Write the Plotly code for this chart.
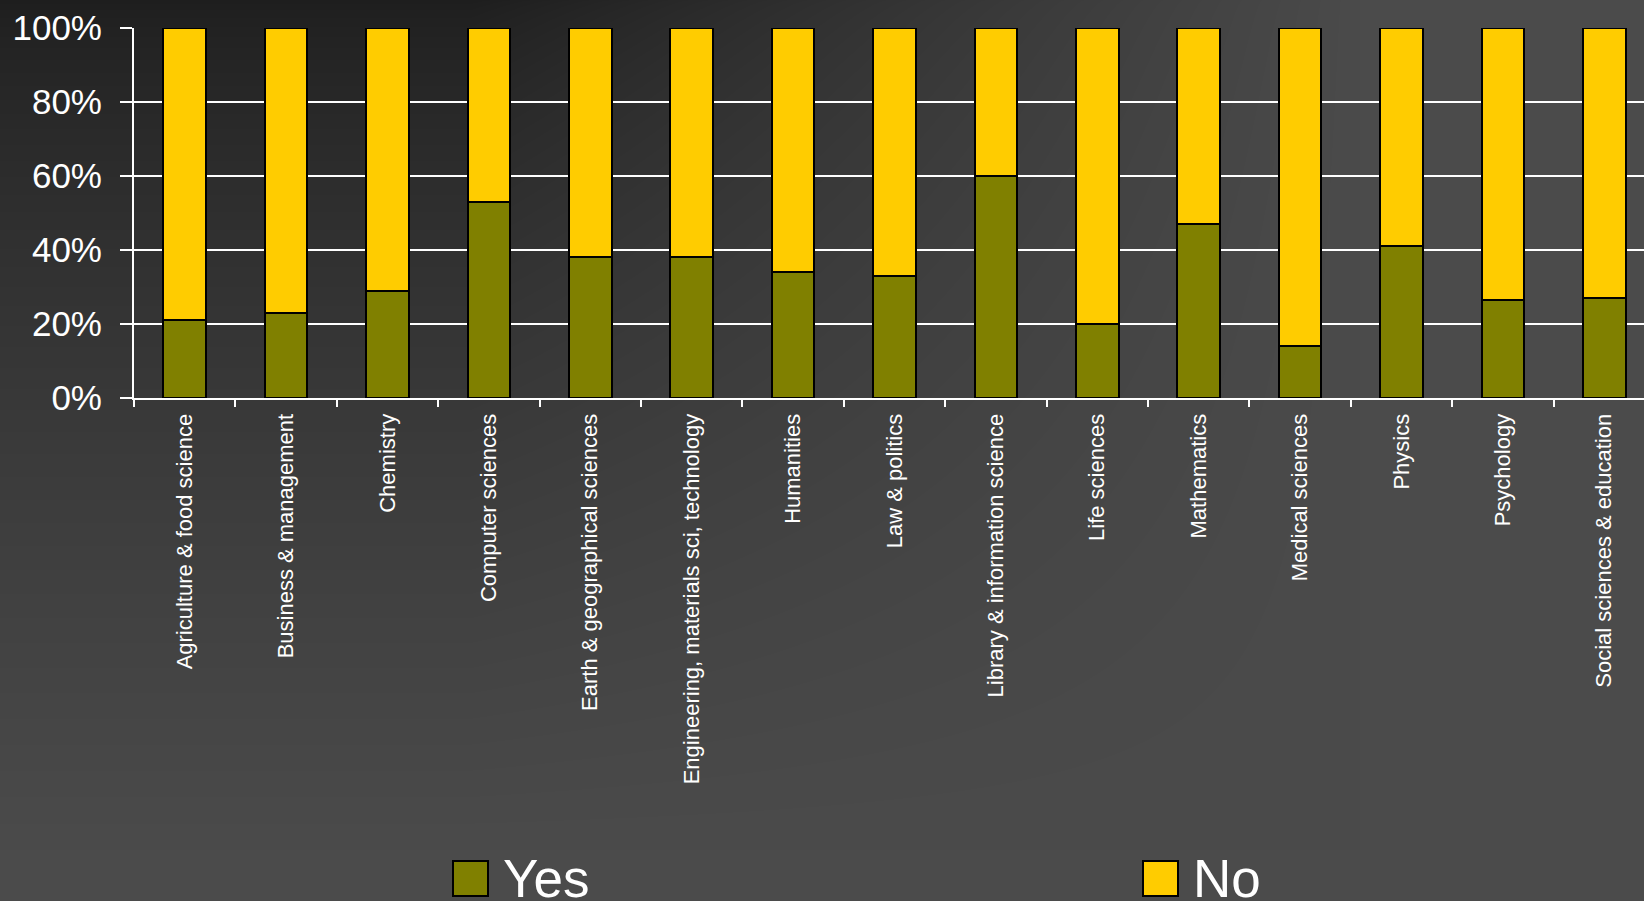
import base64
import struct
import zlib

import numpy as np
import plotly.graph_objects as go

# ---------------- data ----------------
categories = [
    "Agriculture & food science",
    "Business & management",
    "Chemistry",
    "Computer sciences",
    "Earth & geographical sciences",
    "Engineering, materials sci, technology",
    "Humanities",
    "Law & politics",
    "Library & information science",
    "Life sciences",
    "Mathematics",
    "Medical sciences",
    "Physics",
    "Psychology",
    "Social sciences & education",
]
yes_values = [21, 23, 29, 53, 38, 38, 34, 33, 60, 20, 47, 14, 41, 26.5, 27]
no_values = [79, 77, 71, 47, 62, 62, 66, 67, 40, 80, 53, 86, 59, 73.5, 73]
series_names = ["Yes", "No"]
series_colors = ["#808000", "#FFCC00"]
y_tick_values = [0, 20, 40, 60, 80, 100]
y_tick_labels = ["0%", "20%", "40%", "60%", "80%", "100%"]

# ---------------- layout geometry ----------------
W, H = 1644, 901
ML, MR, MT, MB = 134, 0, 28, 503
PW, PH = W - ML - MR, H - MT - MB


def png_data_uri(arr):
    h, w = arr.shape
    raw = b"".join(b"\x00" + arr[i].tobytes() for i in range(h))
    def chunk(tag, data):
        c = struct.pack(">I", len(data)) + tag + data
        return c + struct.pack(">I", zlib.crc32(tag + data) & 0xFFFFFFFF)
    png = b"\x89PNG\r\n\x1a\n"
    png += chunk(b"IHDR", struct.pack(">IIBBBBB", w, h, 8, 0, 0, 0, 0))
    png += chunk(b"IDAT", zlib.compress(raw, 9))
    png += chunk(b"IEND", b"")
    return "data:image/png;base64," + base64.b64encode(png).decode()


# background gradient (dark top-left -> grey)
gx = np.arange(W)[None, :].astype(float)
gy = np.arange(H)[:, None].astype(float)
tx = np.clip((gx - 470) / 890, 0, 1)
ty = np.clip(gy / 850, 0, 1) ** 0.7
t = 1 - (1 - tx) * (1 - ty)
bg = (0x1e + (0x4b - 0x1e) * t).astype(np.uint8)
bg_uri = png_data_uri(bg)

font_family = "Arial, 'Liberation Sans', sans-serif"

fig = go.Figure()
for name, vals, col in zip(series_names, [yes_values, no_values], series_colors):
    fig.add_trace(go.Bar(
        x=categories, y=vals, name=name,
        marker=dict(color=col, line=dict(color="black", width=2)),
        showlegend=False,
    ))


def px_x(x):
    return (x - ML) / PW


def px_y(y):
    return (MT + PH - y) / PH


# manual legend
legend_items = [(453, 505), (1143, 1195)]
shapes = []
annotations = []
for (mx, tx0), name, col in zip(legend_items, series_names, series_colors):
    shapes.append(dict(type="rect", xref="paper", yref="paper",
                       x0=px_x(mx), x1=px_x(mx + 35), y0=px_y(896), y1=px_y(861),
                       fillcolor=col, line=dict(color="black", width=2)))
    annotations.append(dict(text=name, xref="paper", yref="paper",
                            x=px_x(tx0 - 4), y=px_y(878), xanchor="left", yanchor="middle",
                            showarrow=False,
                            font=dict(size=53, color="white", family=font_family)))

fig.update_layout(
    width=W, height=H,
    margin=dict(l=ML, r=MR, t=MT, b=MB, pad=0),
    barmode="stack",
    bargap=0.58,
    paper_bgcolor="#4b4b4b",
    plot_bgcolor="rgba(0,0,0,0)",
    font=dict(family=font_family, color="white"),
    showlegend=False,
    shapes=shapes,
    annotations=annotations,
    images=[dict(source=bg_uri, xref="paper", yref="paper",
                 x=-ML / PW, y=1 + MT / PH, sizex=W / PW, sizey=H / PH,
                 xanchor="left", yanchor="top", sizing="stretch", layer="below")],
    xaxis=dict(
        type="category",
        range=[-0.5, -0.5 + PW / 101.4],
        tickangle=-90,
        tickson="boundaries",
        ticks="outside", ticklen=7, tickwidth=2, tickcolor="white",
        showline=True, linecolor="white", linewidth=2,
        showgrid=False,
        tickfont=dict(size=22, color="white", family=font_family),
        ticklabelstandoff=5,
        fixedrange=True,
    ),
    yaxis=dict(
        range=[0, 100],
        tickmode="array",
        tickvals=y_tick_values,
        ticktext=y_tick_labels,
        ticks="outside", ticklen=12, tickwidth=2, tickcolor="white",
        showline=True, linecolor="white", linewidth=2,
        showgrid=True, gridcolor="white", gridwidth=2,
        zeroline=False,
        tickfont=dict(size=35, color="white", family=font_family),
        ticklabelstandoff=11,
        fixedrange=True,
    ),
)

fig.write_html(
    "out.html",
    config={"displayModeBar": False},
    post_script="document.body.style.margin='0';document.body.style.overflow='hidden';",
)
